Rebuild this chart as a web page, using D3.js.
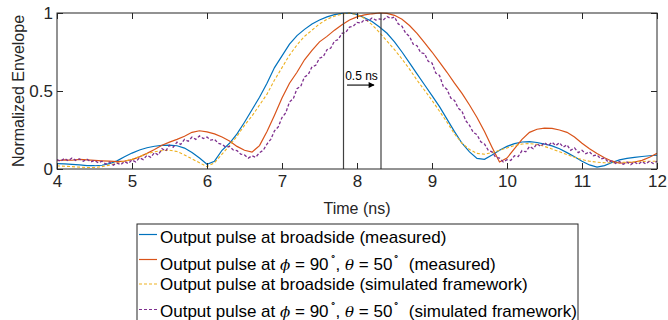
<!DOCTYPE html>
<html>
<head>
<meta charset="utf-8">
<script src="https://cdn.jsdelivr.net/npm/d3@7/dist/d3.min.js"></script>
<style>
  body { margin: 0; background: #fff; }
  svg { display: block; font-family: Arial, "Liberation Sans", Helvetica, sans-serif; }
</style>
</head>
<body>
<div id="chart"></div>
<script>
// time grids (ns)
const timeCoarse = d3.range(81).map(i => +(4 + i * 0.1).toFixed(2));
const timeFine = d3.range(161).map(i => +(4 + i * 0.05).toFixed(2));

// measured, broadside (0.1 ns steps)
const broadsideMeasured = [
  0.035, 0.033, 0.030, 0.026, 0.022, 0.021, 0.024, 0.034, 0.052, 0.078,
  0.102, 0.122, 0.136, 0.146, 0.151, 0.153, 0.149, 0.134, 0.106, 0.070,
  0.030, 0.050, 0.120, 0.165, 0.225, 0.300, 0.380, 0.460, 0.550, 0.650,
  0.725, 0.800, 0.855, 0.895, 0.930, 0.955, 0.975, 0.990, 0.998, 1.000,
  0.990, 0.970, 0.945, 0.910, 0.870, 0.815, 0.750, 0.680, 0.610, 0.540,
  0.470, 0.400, 0.320, 0.240, 0.165, 0.110, 0.068, 0.062, 0.090, 0.120,
  0.145, 0.163, 0.173, 0.175, 0.170, 0.160, 0.148, 0.130, 0.105, 0.078,
  0.050, 0.026, 0.012, 0.022, 0.042, 0.058, 0.068, 0.075, 0.080, 0.085,
  0.088
];

// measured, phi = 90, theta = 50 (0.1 ns steps)
const steeredMeasured = [
  0.053, 0.058, 0.056, 0.062, 0.058, 0.055, 0.052, 0.050, 0.047, 0.050,
  0.060, 0.078, 0.100, 0.125, 0.152, 0.172, 0.190, 0.210, 0.235, 0.245,
  0.238, 0.225, 0.205, 0.180, 0.145, 0.120, 0.108, 0.150, 0.240, 0.345,
  0.455, 0.550, 0.620, 0.700, 0.760, 0.815, 0.850, 0.890, 0.925, 0.955,
  0.975, 0.988, 0.995, 1.000, 0.998, 0.985, 0.960, 0.920, 0.870, 0.810,
  0.750, 0.685, 0.620, 0.550, 0.485, 0.410, 0.330, 0.240, 0.140, 0.045,
  0.070, 0.130, 0.190, 0.235, 0.255, 0.262, 0.260, 0.250, 0.235, 0.205,
  0.165, 0.130, 0.100, 0.072, 0.050, 0.038, 0.040, 0.045, 0.055, 0.075,
  0.100
];

// simulated framework, broadside (0.1 ns steps)
const broadsideSimulated = [
  0.020, 0.018, 0.015, 0.012, 0.010, 0.010, 0.015, 0.025, 0.038, 0.050,
  0.062, 0.080, 0.098, 0.110, 0.118, 0.120, 0.112, 0.090, 0.065, 0.040,
  0.015, 0.040, 0.095, 0.150, 0.210, 0.280, 0.340, 0.410, 0.480, 0.570,
  0.650, 0.730, 0.795, 0.850, 0.890, 0.930, 0.960, 0.980, 0.993, 1.000,
  0.990, 0.965, 0.925, 0.875, 0.820, 0.765, 0.705, 0.640, 0.570, 0.505,
  0.440, 0.370, 0.300, 0.225, 0.165, 0.125, 0.100, 0.095, 0.105, 0.120,
  0.135, 0.150, 0.160, 0.163, 0.158, 0.145, 0.128, 0.110, 0.092, 0.075,
  0.060, 0.050, 0.044, 0.040, 0.040, 0.042, 0.044, 0.046, 0.048, 0.050,
  0.050
];

// simulated framework, phi = 90, theta = 50 (0.05 ns steps, noisy)
const steeredSimulated = [
  0.060, 0.050, 0.068, 0.052, 0.070, 0.055, 0.065, 0.050, 0.062, 0.045,
  0.055, 0.040, 0.050, 0.032, 0.045, 0.025, 0.038, 0.028, 0.048, 0.035,
  0.058, 0.045, 0.072, 0.060, 0.088, 0.075, 0.105, 0.090, 0.130, 0.115,
  0.152, 0.140, 0.172, 0.158, 0.190, 0.178, 0.205, 0.190, 0.212, 0.195,
  0.205, 0.185, 0.190, 0.165, 0.158, 0.140, 0.145, 0.122, 0.118, 0.095,
  0.090, 0.070, 0.085, 0.075, 0.105, 0.120, 0.160, 0.190, 0.245, 0.270,
  0.330, 0.360, 0.430, 0.450, 0.515, 0.530, 0.590, 0.605, 0.655, 0.665,
  0.710, 0.720, 0.765, 0.775, 0.820, 0.830, 0.870, 0.875, 0.910, 0.915,
  0.940, 0.935, 0.958, 0.950, 0.968, 0.955, 0.962, 0.955, 0.978, 0.965,
  0.975, 0.930, 0.915, 0.870, 0.850, 0.800, 0.790, 0.745, 0.740, 0.690,
  0.680, 0.615, 0.600, 0.530, 0.510, 0.455, 0.440, 0.390, 0.370, 0.310,
  0.280, 0.235, 0.220, 0.175, 0.160, 0.120, 0.110, 0.075, 0.070, 0.045,
  0.060, 0.055, 0.085, 0.080, 0.118, 0.110, 0.145, 0.130, 0.162, 0.145,
  0.170, 0.150, 0.172, 0.150, 0.168, 0.140, 0.155, 0.120, 0.135, 0.105,
  0.120, 0.098, 0.110, 0.085, 0.090, 0.065, 0.070, 0.045, 0.052, 0.035,
  0.048, 0.030, 0.045, 0.028, 0.045, 0.030, 0.048, 0.032, 0.050, 0.035,
  0.050
];

const xTicks = [4, 5, 6, 7, 8, 9, 10, 11, 12];
const yTicks = [0, 0.5, 1];
const yTickLabels = ["0", "0.5", "1"];
const markerTimes = [7.82, 8.32];
const delayLabel = "0.5 ns";

const width = 668;
const height = 320;
const margin = {top: 13, right: 11, bottom: 151, left: 57};
const innerWidth = width - margin.left - margin.right;
const innerHeight = height - margin.top - margin.bottom;

const svg = d3.select("#chart")
  .append("svg")
  .attr("width", width)
  .attr("height", height);

const xScale = d3.scaleLinear().domain([4, 12]).range([margin.left, margin.left + innerWidth]);
const yScale = d3.scaleLinear().domain([0, 1]).range([margin.top + innerHeight, margin.top]);

const defs = svg.append("defs");

defs.append("clipPath")
  .attr("id", "plot-clip")
  .append("rect")
  .attr("x", margin.left)
  .attr("y", margin.top - 1)
  .attr("width", innerWidth)
  .attr("height", innerHeight + 2);

defs.append("marker")
  .attr("id", "arrowhead")
  .attr("viewBox", "0 0 10 10")
  .attr("refX", 9)
  .attr("refY", 5)
  .attr("markerWidth", 7)
  .attr("markerHeight", 6)
  .attr("markerUnits", "userSpaceOnUse")
  .attr("orient", "auto")
  .append("path")
  .attr("d", "M0,0 L10,5 L0,10 Z")
  .attr("fill", "#000");

const series = [
  {t: timeCoarse, v: broadsideMeasured, color: "#0072BD", dash: null, w: 1.2},
  {t: timeCoarse, v: steeredMeasured, color: "#D95319", dash: null, w: 1.2},
  {t: timeCoarse, v: broadsideSimulated, color: "#EDB120", dash: "3,2", w: 1.1},
  {t: timeFine, v: steeredSimulated, color: "#7E2F8E", dash: "3,2", w: 1.3}
];

const lineGen = d3.line()
  .x(d => xScale(d[0]))
  .y(d => yScale(d[1]));

const plot = svg.append("g").attr("clip-path", "url(#plot-clip)");

series.forEach(s => {
  plot.append("path")
    .attr("d", lineGen(s.t.map((t, i) => [t, s.v[i]])))
    .attr("fill", "none")
    .attr("stroke", s.color)
    .attr("stroke-width", s.w)
    .attr("stroke-dasharray", s.dash);
});

// 0.5 ns delay markers
plot.selectAll(".marker")
  .data(markerTimes)
  .enter()
  .append("line")
  .attr("class", "marker")
  .attr("x1", d => xScale(d))
  .attr("x2", d => xScale(d))
  .attr("y1", yScale(0))
  .attr("y2", yScale(1))
  .attr("stroke", "#404040")
  .attr("stroke-width", 1.2);

svg.append("line")
  .attr("x1", xScale(7.867))
  .attr("x2", xScale(8.227))
  .attr("y1", yScale(0.538))
  .attr("y2", yScale(0.538))
  .attr("stroke", "#000")
  .attr("stroke-width", 1.1)
  .attr("marker-end", "url(#arrowhead)");

svg.append("text")
  .text(delayLabel)
  .attr("x", xScale(8.06))
  .attr("y", yScale(0.57))
  .attr("text-anchor", "middle")
  .attr("font-size", 12)
  .attr("fill", "#000");

// axes
const axisColor = "#262626";

const bottomAxis = svg.append("g")
  .attr("transform", `translate(0, ${yScale(0)})`)
  .call(d3.axisBottom(xScale).tickValues(xTicks).tickFormat(d3.format("d"))
    .tickSizeInner(-6).tickSizeOuter(0).tickPadding(6));

const topAxis = svg.append("g")
  .attr("transform", `translate(0, ${yScale(1)})`)
  .call(d3.axisTop(xScale).tickValues(xTicks).tickFormat("")
    .tickSizeInner(-6).tickSizeOuter(0));

const leftAxis = svg.append("g")
  .attr("transform", `translate(${xScale(4)}, 0)`)
  .call(d3.axisLeft(yScale).tickValues(yTicks).tickFormat((d, i) => yTickLabels[i])
    .tickSizeInner(-6).tickSizeOuter(0).tickPadding(4));

const rightAxis = svg.append("g")
  .attr("transform", `translate(${xScale(12)}, 0)`)
  .call(d3.axisRight(yScale).tickValues(yTicks).tickFormat("")
    .tickSizeInner(-6).tickSizeOuter(0));

[bottomAxis, topAxis, leftAxis, rightAxis].forEach(a => {
  a.select(".domain").remove();
  a.selectAll(".tick line").attr("stroke", axisColor).attr("stroke-width", 1);
  a.selectAll(".tick text")
    .attr("fill", axisColor)
    .attr("font-size", 17)
    .attr("font-family", "Arial, 'Liberation Sans', sans-serif");
});

svg.append("rect")
  .attr("x", xScale(4))
  .attr("y", yScale(1))
  .attr("width", xScale(12) - xScale(4))
  .attr("height", yScale(0) - yScale(1))
  .attr("fill", "none")
  .attr("stroke", axisColor)
  .attr("stroke-width", 1);

// axis labels
svg.append("text")
  .text("Time (ns)")
  .attr("x", (xScale(4) + xScale(12)) / 2)
  .attr("y", 214)
  .attr("text-anchor", "middle")
  .attr("font-size", 16)
  .attr("fill", axisColor);

svg.append("text")
  .text("Normalized Envelope")
  .attr("transform", `translate(24, ${(yScale(0) + yScale(1)) / 2}) rotate(-90)`)
  .attr("text-anchor", "middle")
  .attr("font-size", 16)
  .attr("fill", axisColor);

// legend
const legendX = 137;
const legendY = 224;
const legend = svg.append("g");

legend.append("rect")
  .attr("x", legendX)
  .attr("y", legendY)
  .attr("width", 441)
  .attr("height", 120)
  .attr("fill", "#fff")
  .attr("stroke", axisColor)
  .attr("stroke-width", 1);

const rowLineY = [234.5, 259.5, 284, 309.5];
const rowBaseY = [243, 270, 290, 317];

const legendParts = [
  [["n", "Output pulse at broadside (measured)"]],
  [["n", "Output pulse at "], ["g", "ϕ"], ["n", " = 90"], ["s", "∘"], ["n", ", "], ["g", "θ"], ["n", " = 50"], ["s", "∘"], ["n", "  (measured)"]],
  [["n", "Output pulse at broadside (simulated framework)"]],
  [["n", "Output pulse at "], ["g", "ϕ"], ["n", " = 90"], ["s", "∘"], ["n", ", "], ["g", "θ"], ["n", " = 50"], ["s", "∘"], ["n", "  (simulated framework)"]]
];

series.forEach((s, i) => {
  legend.append("path")
    .attr("d", `M${legendX + 2},${rowLineY[i]}H${legendX + 20}`)
    .attr("fill", "none")
    .style("stroke", s.color)
    .attr("stroke-width", 1.2)
    .attr("stroke-dasharray", s.dash);

  const label = legend.append("text")
    .attr("x", legendX + 23)
    .attr("y", rowBaseY[i])
    .attr("font-size", 17)
    .attr("fill", "#000")
    .style("white-space", "pre");

  let prevKind = null;
  legendParts[i].forEach(([kind, str]) => {
    const ts = label.append("tspan").text(str);
    if (kind === "g") {
      ts.attr("font-family", "'DejaVu Serif', serif")
        .attr("font-style", "italic")
        .attr("font-size", 15);
    } else if (kind === "s") {
      ts.attr("font-size", 10).attr("dy", -11).attr("dx", 1);
    }
    if (kind !== "s" && prevKind === "s") ts.attr("dy", 11);
    prevKind = kind;
  });
});
</script>
</body>
</html>
